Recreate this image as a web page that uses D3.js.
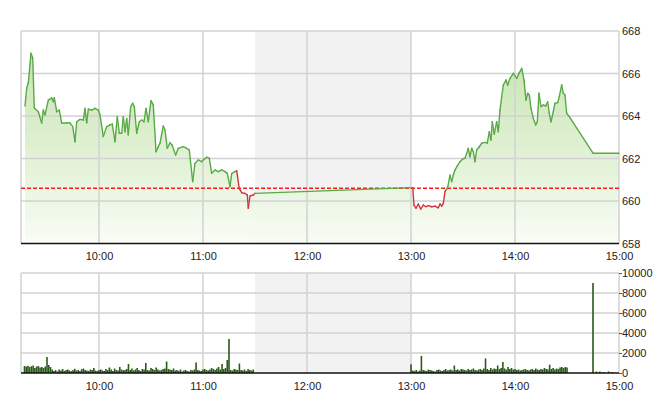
<!DOCTYPE html>
<html><head><meta charset="utf-8">
<script src="https://cdn.jsdelivr.net/npm/d3@7"></script>
<style>body{margin:0;background:#fff}</style>
</head><body><svg id="c" width="660" height="412"></svg>
<script>
// ---------- DATA ----------
const sessionStart = "09:15", sessionEnd = "15:00";
const lunchBreak = ["11:30", "13:00"];
const refPrice = 660.6;
const priceTicks = [658, 660, 662, 664, 666, 668];
const volTicks = [0, 2000, 4000, 6000, 8000, 10000];
const timeTicks = ["10:00", "11:00", "12:00", "13:00", "14:00", "15:00"];

const priceTimes = [
"09:17:18","09:18:17","09:19:13","09:20:46","09:21:45","09:22:40","09:24:59","09:26:56","09:27:52","09:28:51",
"09:30:45","09:32:43","09:33:38","09:34:13","09:35:36","09:37:06","09:38:29","09:41:22","09:43:16","09:44:50",
"09:46:09","09:47:08","09:49:02","09:50:56","09:51:55","09:52:54","09:53:50","09:55:47","09:57:41","09:59:35",
"10:00:35","10:02:29","10:04:26","10:06:20","10:07:40","10:09:14","10:10:33","10:11:43","10:13:06","10:14:01",
"10:15:00","10:15:59","10:16:54","10:18:17","10:19:26","10:20:22","10:21:45","10:23:15","10:24:38","10:25:58",
"10:27:07","10:28:26","10:30:00","10:31:19","10:32:53","10:34:13","10:35:11","10:37:05","10:38:04","10:39:24",
"10:40:58","10:42:07","10:44:15","10:45:45","10:48:38","10:50:35","10:52:05","10:54:03","10:55:23","10:57:17",
"10:59:15","11:00:34","11:02:08","11:03:38","11:05:01","11:06:55","11:08:50","11:10:47","11:12:41","11:14:01",
"11:15:35","11:16:34","11:18:28","11:19:26","11:20:56","11:22:20","11:24:14","11:25:34","11:26:08","11:27:07",
"11:29:01","11:30:00",
"13:00:00","13:01:00","13:01:44","13:02:53","13:04:13","13:05:36","13:07:06","13:08:39","13:09:59","13:11:56",
"13:13:51","13:15:45","13:16:44","13:17:43","13:18:38","13:19:37","13:20:35","13:21:21","13:22:30","13:23:29",
"13:24:24","13:25:23","13:26:43","13:28:16","13:29:50","13:31:09","13:32:08","13:33:04","13:34:02","13:35:01",
"13:35:56","13:36:55","13:37:54","13:39:14","13:40:47","13:42:41","13:44:01","13:45:10","13:46:09","13:46:54",
"13:48:03","13:49:26","13:50:22","13:51:20","13:52:19","13:53:15","13:54:48","13:55:47","13:57:07","13:59:01",
"14:00:59","14:02:18","14:03:52","14:05:11","14:06:20","14:07:19","14:08:15","14:09:14","14:10:34","14:11:56",
"14:12:52","14:13:50","14:15:00","14:16:19","14:17:42","14:18:52","14:19:47","14:20:46","14:22:05","14:23:04",
"14:24:38","14:25:33","14:26:56","14:27:52","14:28:50","14:29:49","14:31:19","14:45:00","15:00:00"
];
const priceValues = [
664.47,665.32,665.55,666.95,666.73,664.38,664.20,663.67,664.28,664.05,
664.75,664.85,664.67,664.86,664.20,664.28,663.67,663.67,663.68,663.50,
662.79,663.73,663.84,663.81,664.36,663.68,664.32,664.28,664.36,664.28,
664.05,663.03,663.50,663.58,663.62,662.79,663.97,663.19,663.19,663.97,
663.26,663.89,663.11,664.44,664.60,664.44,663.19,663.73,663.81,663.73,
664.36,663.73,664.72,664.52,662.32,662.56,662.72,663.53,663.34,662.48,
662.74,662.64,662.16,662.48,662.56,662.48,662.40,660.91,661.77,661.93,
661.85,661.96,662.06,662.01,661.30,661.46,661.38,661.46,661.38,661.30,
660.67,661.30,661.38,661.43,660.58,660.39,660.36,660.28,659.66,660.24,
660.28,660.36,
660.63,660.63,659.81,659.66,659.86,659.62,659.81,659.73,659.78,659.73,
659.76,659.68,659.86,659.76,659.89,660.44,660.56,660.71,661.22,660.91,
661.22,661.46,661.65,661.85,661.98,662.01,662.24,662.48,662.08,662.48,
662.32,661.85,662.40,662.53,662.72,662.76,662.72,663.26,662.87,663.73,
663.15,663.73,663.26,664.28,664.91,665.46,665.69,665.46,665.77,666.01,
665.77,666.01,666.24,665.69,664.75,665.07,664.99,664.36,663.89,663.58,
663.73,665.07,664.44,664.52,664.47,664.67,664.13,663.73,664.20,664.60,
664.63,664.91,665.46,665.07,664.99,664.13,663.97,662.25,662.25
];

const volMorningStart = "09:17";
const volMorning = [
700,650,720,600,680,750,500,650,700,550,600,
500,650,
1600,
800,600,350,
200,300,150,350,250,400,200,300,350,250,180,300,420,250,
300,200,380,450,300,250,200,350,300,500,250,200,300,350,
250,200,400,300,550,350,200,450,300,250,600,350,280,300,400,
900,
300,450,250,350,500,300,200,400,350,
1000,
300,250,500,400,300,550,350,250,300,400,450,
1150,
400,350,300,450,250,300,200,350,150,250,300,200,150,300,250,350,
1050,
300,250,200,350,400,300,250,350,500,400,300,450,600,350,
900,
400,500,
1300,
3400,
300,250,400,350,300,
950,
300,250,350,200,400,300,250,350
];
const volAfternoonStart = "13:00";
const volAfternoon = [
870,
250,200,300,150,250,
1700,
300,250,200,350,300,250,200,150,300,350,250,200,300,400,250,300,350,250,
750,
300,350,250,400,350,300,250,400,300,350,450,300,250,350,400,300,450,
1450,
400,300,500,350,450,400,
750,
400,500,
1100,
450,350,600,400,500,350,400,300,350,250,300,350,400,300,250,350,400,300,450,350,300,400,350,500,400,350,
830,
400,500,350,450,400,550,600,500,600,550
];
const volCloseTimes = ["14:45","14:47","14:49","14:51","14:54","14:56"];
const volClose = [9000,150,150,100,150,100];

// ---------- CHART ----------
const parseT = s => d3.timeParse(s.length > 5 ? "%H:%M:%S" : "%H:%M")(s);
const svg = d3.select("#c");
const L = 21, R = 619, pTop = 31, pBot = 243.5, vTop = 273, vBot = 373;
const x = d3.scaleTime().domain([parseT(sessionStart), parseT(sessionEnd)]).range([L, R]);
const yP = d3.scaleLinear().domain([658, 668]).range([pBot, pTop]);
const yV = d3.scaleLinear().domain([0, 10000]).range([vBot, vTop]);
const font = "Arial, 'Liberation Sans', sans-serif";
const gridC = "#d2d2d2";

const price = priceTimes.map((t, i) => ({t: parseT(t), v: priceValues[i]}));

// lunch shading
[[pTop, pBot], [vTop, vBot]].forEach(([a, b]) => {
  svg.append("rect").attr("x", x(parseT(lunchBreak[0]))).attr("y", a)
    .attr("width", x(parseT(lunchBreak[1])) - x(parseT(lunchBreak[0]))).attr("height", b - a)
    .attr("fill", "#f2f2f2");
});

// gradient fill
const defs = svg.append("defs");
const grad = defs.append("linearGradient").attr("id", "g").attr("gradientUnits", "userSpaceOnUse")
  .attr("x1", 0).attr("x2", 0).attr("y1", pTop).attr("y2", pBot);
grad.append("stop").attr("offset", 0).attr("stop-color", "#bde0a2");
grad.append("stop").attr("offset", 0.55).attr("stop-color", "#ddefcf");
grad.append("stop").attr("offset", 1).attr("stop-color", "#f8fcf5");
svg.append("path").datum(price)
  .attr("d", d3.area().x(d => x(d.t)).y0(pBot).y1(d => yP(d.v)))
  .attr("fill", "url(#g)").attr("fill-opacity", 0.92);

// gridlines
const grid = svg.append("g").attr("stroke", gridC).attr("stroke-width", 1.5);
priceTicks.filter(v => v !== 658).forEach(v =>
  grid.append("line").attr("x1", L).attr("x2", R).attr("y1", yP(v)).attr("y2", yP(v)));
volTicks.filter(v => v !== 0).forEach(v =>
  grid.append("line").attr("x1", L).attr("x2", R).attr("y1", yV(v)).attr("y2", yV(v)));
[sessionStart, ...timeTicks].forEach(t => {
  const xx = x(parseT(t));
  grid.append("line").attr("x1", xx).attr("x2", xx).attr("y1", pTop).attr("y2", pBot);
  grid.append("line").attr("x1", xx).attr("x2", xx).attr("y1", vTop).attr("y2", vBot);
});

// reference line
svg.append("line").attr("x1", L).attr("x2", R).attr("y1", yP(refPrice)).attr("y2", yP(refPrice))
  .attr("stroke", "#ff1a1a").attr("stroke-width", 1.3).attr("stroke-dasharray", "4,2");

// price line, coloured by segment
const lineG = svg.append("g").attr("fill", "none").attr("stroke-width", 1.4)
  .attr("stroke-linejoin", "round").attr("stroke-linecap", "round");
for (let i = 1; i < price.length; i++) {
  const a = price[i - 1], b = price[i];
  lineG.append("line").attr("x1", x(a.t)).attr("y1", yP(a.v)).attr("x2", x(b.t)).attr("y2", yP(b.v))
    .attr("stroke", b.v < refPrice ? "#d2343f" : "#58aa45");
}

// volume bars
const vols = [];
const ms = parseT(volMorningStart), as = parseT(volAfternoonStart);
volMorning.forEach((v, i) => vols.push({t: d3.timeMinute.offset(ms, i), v}));
volAfternoon.forEach((v, i) => vols.push({t: d3.timeMinute.offset(as, i), v}));
volCloseTimes.forEach((t, i) => vols.push({t: parseT(t), v: volClose[i]}));
svg.append("g").selectAll("rect").data(vols).join("rect")
  .attr("x", d => x(d.t) - 0.8).attr("width", 1.6)
  .attr("y", d => yV(d.v)).attr("height", d => vBot - yV(d.v))
  .attr("fill", "#2a5a1a");

// baselines
[pBot, vBot].forEach(y => svg.append("line").attr("x1", L).attr("x2", R).attr("y1", y).attr("y2", y)
  .attr("stroke", "#111").attr("stroke-width", 1.6));

// axes
function styleAxis(g) {
  g.select(".domain").remove();
  g.selectAll("text").attr("font-family", font).attr("font-size", 11).attr("fill", "#222");
  g.selectAll("line").attr("stroke", "#555");
}
svg.append("g").attr("transform", `translate(${R},0)`)
  .call(d3.axisRight(yP).tickValues(priceTicks).tickFormat(d3.format("d")).tickSize(0).tickPadding(3))
  .call(styleAxis);
svg.append("g").attr("transform", `translate(${R},0)`)
  .call(d3.axisRight(yV).tickValues(volTicks).tickFormat(d3.format("d")).tickSize(3).tickPadding(0))
  .call(styleAxis);
const tv = timeTicks.map(parseT);
[252, 382].forEach(y => svg.append("g").attr("transform", `translate(0,${y})`)
  .call(d3.axisBottom(x).tickValues(tv).tickFormat(d3.timeFormat("%H:%M")).tickSize(0).tickPadding(0))
  .call(styleAxis));
</script></body></html>
